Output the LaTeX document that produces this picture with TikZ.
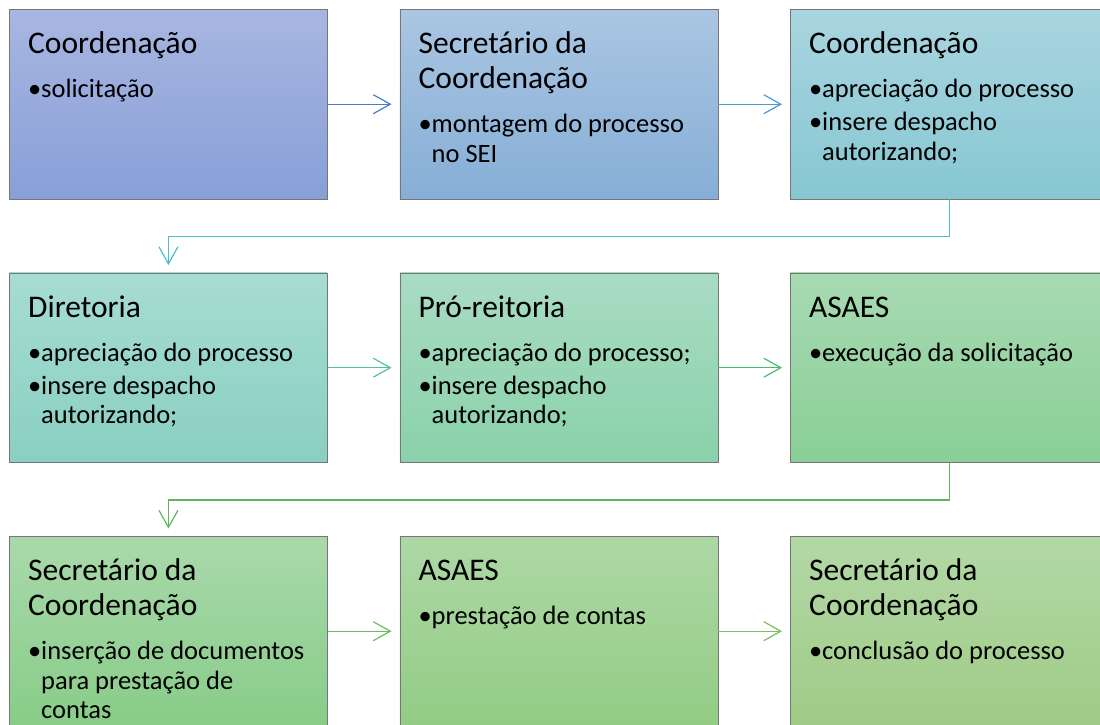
\documentclass[tikz,border=0pt]{standalone}
\usepackage{fontspec}
\setmainfont{Carlito}
\usetikzlibrary{arrows.meta,positioning}

\definecolor{edgegray}{RGB}{118,118,118}
\definecolor{ca}{HTML}{4A7CC8}
\definecolor{cb}{HTML}{4A9BD2}
\definecolor{cc}{HTML}{4BBCC8}
\definecolor{cd}{HTML}{4CC2A6}
\definecolor{ce}{HTML}{46BE6E}
\definecolor{cf}{HTML}{5CB85E}
\definecolor{cg}{HTML}{6CBC60}
\definecolor{ch}{HTML}{80BC62}
\definecolor{top1}{RGB}{168,182,225}\definecolor{bot1}{RGB}{136,159,215}
\definecolor{top2}{RGB}{170,198,226}\definecolor{bot2}{RGB}{134,174,214}
\definecolor{top3}{RGB}{169,213,224}\definecolor{bot3}{RGB}{134,199,210}
\definecolor{top4}{RGB}{167,220,210}\definecolor{bot4}{RGB}{137,208,194}
\definecolor{top5}{RGB}{169,220,195}\definecolor{bot5}{RGB}{138,209,170}
\definecolor{top6}{RGB}{168,218,178}\definecolor{bot6}{RGB}{137,207,151}
\definecolor{top7}{RGB}{169,217,171}\definecolor{bot7}{RGB}{136,204,136}
\definecolor{top8}{RGB}{173,216,165}\definecolor{bot8}{RGB}{147,204,133}
\definecolor{top9}{RGB}{179,216,166}\definecolor{bot9}{RGB}{159,203,134}

\newcommand\ttl{\fontsize{31.5}{35}\selectfont}
\newcommand\bdy{\fontsize{26.5}{29.5}\selectfont}
\newcommand\bul[1]{\par\vspace{3.5pt}\hangindent=13pt\hangafter=1\noindent\makebox[13pt][l]{\textbullet}#1\par}
\newcommand\stepbox[2]{\parbox[t]{300pt}{\raggedright{\ttl #1\par}\bdy\vspace{11pt}#2}}

\tikzset{
  box/.style={draw=edgegray, line width=0.9pt, minimum width=318pt, minimum height=189.5pt, inner sep=0pt, anchor=north west},
  shade2/.style={top color=top#1, bottom color=bot#1},
  txt/.style={anchor=base west, inner sep=0pt},
  arr/.style={line width=1.2pt, -{Straight Barb[length=17pt,width=19pt,line width=1.2pt]}, shorten >=8pt},
}

\begin{document}
\begin{tikzpicture}[x=1pt,y=-1pt]
\useasboundingbox (0,0) rectangle (1100,724);
\clip (0,0) rectangle (1100,724);

\node[box, shade2=1] (c1) at (9,9) {};
\node[box, shade2=2] (c2) at (399.5,9) {};
\node[box, shade2=3] (c3) at (790,9) {};
\node[box, shade2=4] (c4) at (9,272.5) {};
\node[box, shade2=5] (c5) at (399.5,272.5) {};
\node[box, shade2=6] (c6) at (790,272.5) {};
\node[box, shade2=7] (c7) at (9,536) {};
\node[box, shade2=8] (c8) at (399.5,536) {};
\node[box, shade2=9] (c9) at (790,536) {};

\node[txt] (t1) at ([xshift=19pt,yshift=-44.5pt]c1.north west) {\stepbox{Coordenação}{\bul{solicitação}}};
\node[txt] (t2) at ([xshift=19pt,yshift=-44.5pt]c2.north west) {\stepbox{Secretário da\\Coordenação}{\bul{montagem do processo\newline no SEI}}};
\node[txt] (t3) at ([xshift=19pt,yshift=-44.5pt]c3.north west) {\stepbox{Coordenação}{\bul{apreciação do processo}\bul{insere despacho\newline autorizando;}}};
\node[txt] (t4) at ([xshift=19pt,yshift=-44.5pt]c4.north west) {\stepbox{Diretoria}{\bul{apreciação do processo}\bul{insere despacho\newline autorizando;}}};
\node[txt] (t5) at ([xshift=19pt,yshift=-44.5pt]c5.north west) {\stepbox{Pró-reitoria}{\bul{apreciação do processo;}\bul{insere despacho\newline autorizando;}}};
\node[txt] (t6) at ([xshift=19pt,yshift=-44.5pt]c6.north west) {\stepbox{ASAES}{\bul{execução da solicitação}}};
\node[txt] (t7) at ([xshift=19pt,yshift=-44.5pt]c7.north west) {\stepbox{Secretário da\\Coordenação}{\bul{inserção de documentos\newline para prestação de\newline contas}}};
\node[txt] (t8) at ([xshift=19pt,yshift=-44.5pt]c8.north west) {\stepbox{ASAES}{\bul{prestação de contas}}};
\node[txt] (t9) at ([xshift=19pt,yshift=-44.5pt]c9.north west) {\stepbox{Secretário da\\Coordenação}{\bul{conclusão do processo}}};

\draw[arr, ca] (c1.east) -- (c2.west);
\draw[arr, cb] (c2.east) -- (c3.west);
\draw[arr, cc, shorten >=7.5pt] (c3.south) -- ++(0,37) -| (c4.north);
\draw[arr, cd] (c4.east) -- (c5.west);
\draw[arr, ce] (c5.east) -- (c6.west);
\draw[arr, cf, shorten >=7.5pt] (c6.south) -- ++(0,37) -| (c7.north);
\draw[arr, cg] (c7.east) -- (c8.west);
\draw[arr, ch] (c8.east) -- (c9.west);
\end{tikzpicture}
\end{document}
